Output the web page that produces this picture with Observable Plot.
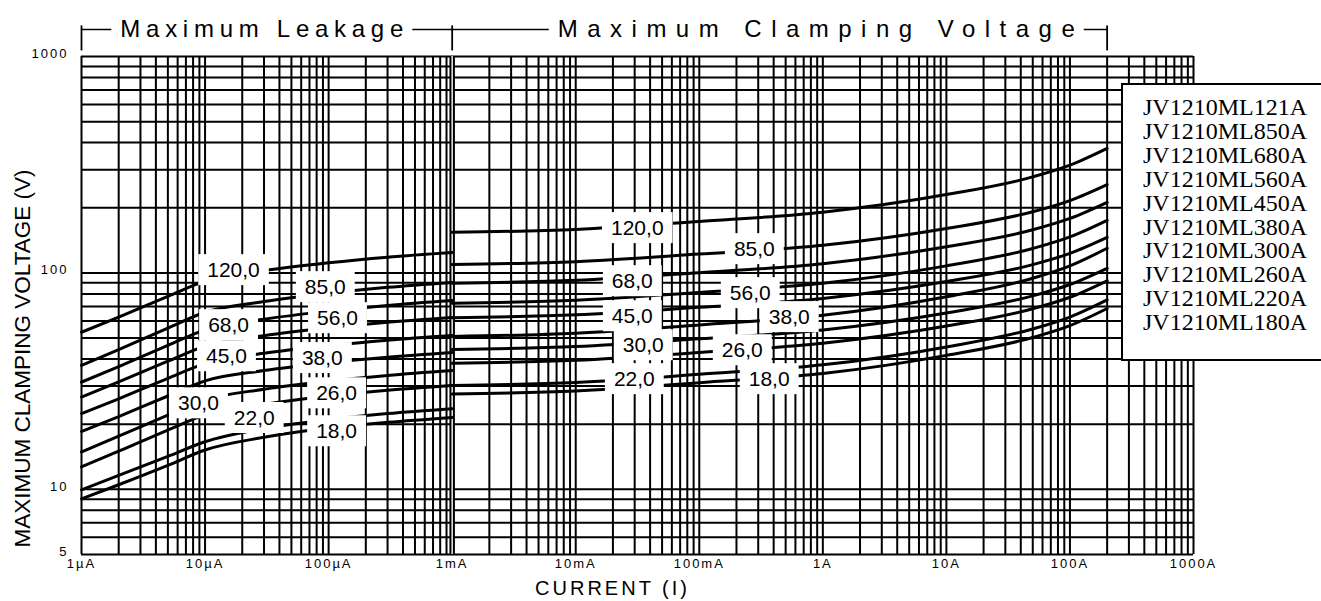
<!DOCTYPE html>
<html><head><meta charset="utf-8">
<script src="https://cdn.jsdelivr.net/npm/d3@7"></script>
<script src="https://cdn.jsdelivr.net/npm/@observablehq/plot@0.6"></script>
<style>
html,body{margin:0;padding:0;background:#fff;}
#wrap{position:relative;width:1321px;height:601px;overflow:hidden;}
#legend{position:absolute;left:1121px;top:83px;width:230px;height:263px;border:2px solid #000;background:#fff;
  font-family:"Liberation Serif","Times New Roman",serif;font-size:24px;line-height:23.9px;padding-top:11px;box-sizing:content-box;}
#legend div{padding-left:20px;white-space:nowrap;color:#000;}
g[aria-label="x-axis tick label"] text, g[aria-description="y-tick-labels"] text{letter-spacing:2px;}
g[aria-description="axis-title"] text{letter-spacing:3px;}
</style></head><body><div id="wrap"><div id="legend"></div></div>
<script>
// ---------- data ----------
const seriesNames = ["120,0","85,0","68,0","56,0","45,0","38,0","30,0","26,0","22,0","18,0"];
const legendNames = ["JV1210ML121A","JV1210ML850A","JV1210ML680A","JV1210ML560A","JV1210ML450A",
                     "JV1210ML380A","JV1210ML300A","JV1210ML260A","JV1210ML220A","JV1210ML180A"];

// Maximum leakage region (1µA .. 1mA)
const leftCurrents = [1e-6, 2e-6, 5e-6, 1e-5, 3e-5, 1e-4, 3e-4, 1e-3];
const leftVolts = [
  [53.2, 62.5, 77.9, 91.6, 102.3, 111.3, 118.2, 124.3],
  [37.4, 44.2, 55.6, 65.8, 73.8, 80.6, 85.8, 90.4],
  [31.3, 36.9, 46.3, 54.6, 61.1, 66.6, 70.8, 74.6],
  [26.7, 31.4, 39.1, 45.9, 51.3, 55.8, 59.2, 62.3],
  [22.4, 26.2, 32.6, 38.1, 42.5, 46.1, 48.9, 51.4],
  [18.5, 21.7, 27.0, 31.7, 35.4, 38.5, 40.8, 42.9],
  [14.9, 17.6, 22.0, 25.9, 29.0, 31.6, 33.6, 35.4],
  [12.7, 15.0, 18.8, 22.1, 24.7, 27.0, 28.7, 30.2],
  [9.95, 11.6, 14.2, 16.6, 19.1, 21.0, 22.4, 23.6],
  [9.04, 10.5, 12.9, 15.2, 17.4, 19.2, 20.4, 21.5]
];

// Maximum clamping voltage region (1mA .. 200A)
const rightCurrents = [1e-3, 1e-2, 1e-1, 1, 10, 50, 100, 200];
const rightVolts = [
  [154, 158.9, 172.9, 190.8, 230.1, 277.7, 314.6, 376],
  [109.4, 112.7, 122.2, 134.1, 160.4, 191.7, 216.0, 256],
  [89.7, 92.4, 100.3, 110.3, 132.1, 158.2, 178.5, 212],
  [72.5, 74.8, 81.3, 89.6, 107.8, 129.7, 146.7, 175],
  [62.1, 64.0, 69.4, 76.2, 91.2, 109.2, 123.1, 146],
  [50.9, 52.6, 57.5, 63.7, 77.6, 94.5, 107.8, 130],
  [44.3, 45.7, 49.6, 54.5, 65.3, 78.3, 88.4, 105],
  [38.3, 39.5, 42.9, 47.3, 56.8, 68.3, 77.2, 92],
  [30.2, 31.2, 34.0, 37.6, 45.5, 55.1, 62.5, 75],
  [27.6, 28.5, 31.1, 34.3, 41.6, 50.3, 57.1, 68.5]
];

// curve label anchor points (current, voltage)
const labelLeftCurrent = [1.7e-5, 9.4e-5, 1.55e-5, 1.18e-4, 1.49e-5, 8.9e-5, 8.84e-6, 1.16e-4, 2.5e-5, 1.16e-4];
const labelLeftVolt    = [102.7, 85.7, 57.2, 61.6, 41.1, 40.3, 24.9, 27.7, 21.3, 18.5];
const labelRightCurrent = [0.0315, 0.279, 0.0287, 0.2586, 0.0287, 0.535, 0.0352, 0.2228, 0.0298, 0.368];
const labelRightVolt    = [160.6, 128.4, 91.3, 80.4, 62.9, 62.3, 46.2, 43.8, 32.2, 32.2];

// axes
const xTicks = [1e-6, 1e-5, 1e-4, 1e-3, 1e-2, 1e-1, 1, 10, 100, 1000];
const xTickLabels = ["1µA","10µA","100µA","1mA","10mA","100mA","1A","10A","100A","1000A"];
const yTicks = [5, 10, 100, 1000];
const yTickLabels = ["5","10","100","1000"];
const gridDecades = [1e-6, 1e-5, 1e-4, 1e-3, 1e-2, 1e-1, 1, 10, 100];
const gridMultipliers = [1,2,3,4,5,6,7,8,9];
const yGrid = [5,6,7,8,9,10,20,30,40,50,60,70,80,90,100,200,300,400,500,600,700,800,900,1000];

// top range annotations
const rangeNames = ["Maximum Leakage", "Maximum Clamping Voltage"];
const rangeStart = [1e-6, 1e-3];
const rangeEnd = [1e-3, 200];
const rangeCenter = [2.88e-5, 0.885];
const bracketLevel = 1334, bracketTickLow = 1067, bracketTickHigh = 1392;

const xTitle = "CURRENT (I)";
const yTitle = "MAXIMUM CLAMPING VOLTAGE (V)";

// ---------- build tables ----------
const xGrid = gridDecades.flatMap(d => gridMultipliers.map(m => m * d)).concat([1000]);
const curveRows = [];
seriesNames.forEach((name, k) => {
  leftCurrents.forEach((c, i) => curveRows.push({series: name, part: "L", current: c, volt: leftVolts[k][i]}));
  rightCurrents.forEach((c, i) => curveRows.push({series: name, part: "R", current: c, volt: rightVolts[k][i]}));
});
const labelRows = seriesNames.flatMap((name, k) => [
  {text: name, current: labelLeftCurrent[k], volt: labelLeftVolt[k]},
  {text: name, current: labelRightCurrent[k], volt: labelRightVolt[k]}
]);
const ranges = rangeNames.map((n, i) => ({name: n, x1: rangeStart[i], x2: rangeEnd[i], cx: rangeCenter[i]}));
const rangeTicks = [1e-6, 1e-3, 200];

const plot = Plot.plot({
  width: 1321, height: 601,
  marginLeft: 81, marginRight: 128, marginTop: 56, marginBottom: 47,
  style: {fontFamily: "'Liberation Sans', Arial, sans-serif", color: "#000", background: "#fff"},
  x: {type: "log", domain: [1e-6, 1000]},
  y: {type: "log", domain: [5, 1000], axis: null},
  marks: [
    Plot.ruleX(xGrid, {stroke: "#000", strokeWidth: 2}),
    Plot.ruleY(yGrid, {stroke: "#000", strokeWidth: 2}),
    Plot.ruleX([1e-3], {stroke: "#000", strokeWidth: 5.5}),
    Plot.ruleX([1e-3], {stroke: "#fff", strokeWidth: 1.4}),
    Plot.line(curveRows, {x: "current", y: "volt", z: d => d.series + d.part, stroke: "#000", strokeWidth: 3, curve: "monotone-x"}),
    Plot.text(labelRows, {x: "current", y: "volt", text: "text", fontSize: 21, fill: "#000", ariaDescription: "curve-labels"}),
    Plot.axisX({ticks: xTicks, tickFormat: d => xTickLabels[xTicks.indexOf(d)], tickSize: 0, tickPadding: 4, fontSize: 13, label: null}),
    Plot.text(yTicks, {y: d => d, text: (d, i) => yTickLabels[i], frameAnchor: "left", textAnchor: "end", lineAnchor: "middle", dx: -13, dy: -3, fontSize: 13, ariaDescription: "y-tick-labels"}),
    Plot.text([xTitle], {text: d => d, frameAnchor: "bottom", textAnchor: "middle", lineAnchor: "middle", dx: -25, dy: 34, fontSize: 20, ariaDescription: "axis-title"}),
    Plot.text([yTitle], {text: d => d, frameAnchor: "left", textAnchor: "middle", lineAnchor: "middle", rotate: -90, dx: -59, dy: 53, fontSize: 22.5}),
    Plot.link(ranges, {x1: "x1", x2: "x2", y1: () => bracketLevel, y2: () => bracketLevel, stroke: "#000", strokeWidth: 1.5}),
    Plot.link(rangeTicks, {x1: d => d, x2: d => d, y1: () => bracketTickLow, y2: () => bracketTickHigh, stroke: "#000", strokeWidth: 1.8}),
    Plot.text(ranges, {x: "cx", y: () => bracketLevel, text: "name", lineAnchor: "middle", fontSize: 24, fontFamily: "'Liberation Sans Narrow', 'Arial Narrow', 'Liberation Sans', sans-serif", ariaDescription: "range-labels"})
  ]
});
const wrap = document.getElementById("wrap");
wrap.insertBefore(plot, wrap.firstChild);

// white boxes behind labels
const rangeWidths = [283, 517];
function addBoxes(desc, padX, padY) {
  plot.querySelectorAll(`g[aria-description="${desc}"] text`).forEach(t => {
    const b = t.getBBox();
    const r = document.createElementNS("http://www.w3.org/2000/svg", "rect");
    r.setAttribute("x", b.x - padX); r.setAttribute("y", b.y - padY);
    r.setAttribute("width", b.width + 2 * padX); r.setAttribute("height", b.height + 2 * padY);
    r.setAttribute("fill", "#fff");
    const tr = t.getAttribute("transform");
    if (tr) r.setAttribute("transform", tr);
    t.parentNode.insertBefore(r, t);
  });
}
plot.querySelectorAll('g[aria-description="range-labels"] text').forEach((t, i) => {
  t.setAttribute("textLength", rangeWidths[i]);
  t.setAttribute("lengthAdjust", "spacing");
});
addBoxes("curve-labels", 9, 4);
addBoxes("range-labels", 9, 0);

// legend
const legend = document.getElementById("legend");
legendNames.forEach(n => { const d = document.createElement("div"); d.textContent = n; legend.appendChild(d); });
</script></body></html>
